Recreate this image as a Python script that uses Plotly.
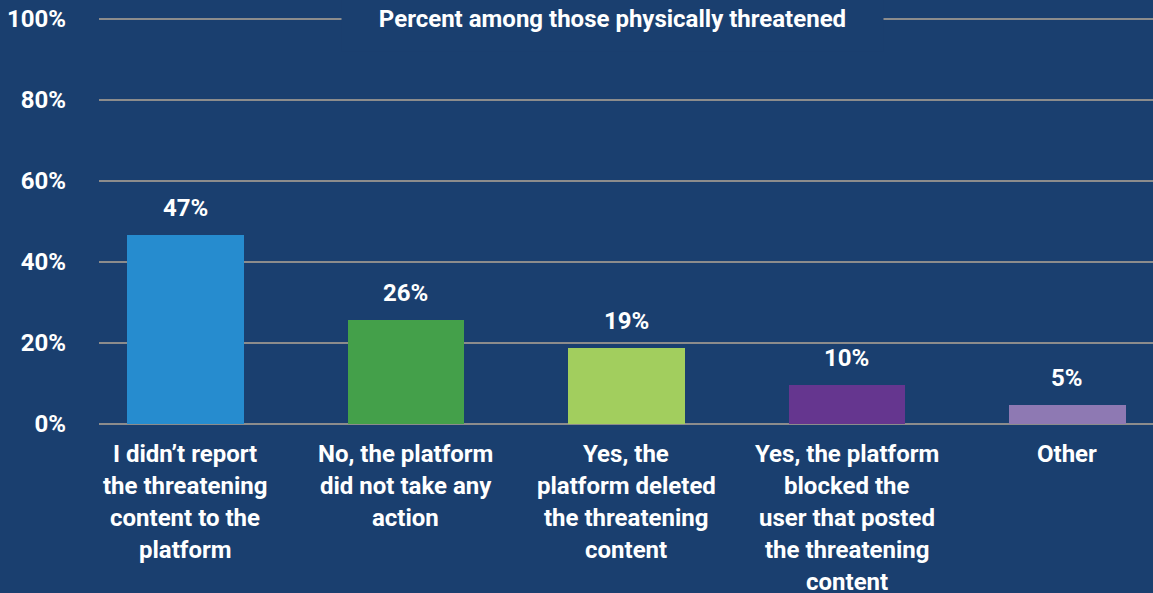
import plotly.graph_objects as go

categories = [
    "I didn’t report<br>the threatening<br>content to the<br>platform",
    "No, the platform<br>did not take any<br>action",
    "Yes, the<br>platform deleted<br>the threatening<br>content",
    "Yes, the platform<br>blocked the<br>user that posted<br>the threatening<br>content",
    "Other",
]
values = [46.7, 25.7, 18.8, 9.6, 4.7]
value_labels = ["47%", "26%", "19%", "10%", "5%"]
colors = ["#268ccf", "#44a04a", "#a2ce5e", "#65368f", "#8e79b3"]
tick_vals = [0, 20, 40, 60, 80, 100]
tick_text = ["0%", "20%", "40%", "60%", "80%", "100%"]
title_text = "Percent among those physically threatened"

BG = "#1a3f6f"
FONT = "Roboto"
FS = 24

xs = list(range(len(categories)))

fig = go.Figure()
fig.add_trace(go.Bar(
    x=xs, y=values, width=0.53,
    marker=dict(color=colors, line=dict(width=0)),
    hoverinfo="skip",
))

annotations = []
for i, (v, lab) in enumerate(zip(values, value_labels)):
    annotations.append(dict(
        x=i, y=v, xref="x", yref="y", text=f"<b>{lab}</b>", showarrow=False,
        yanchor="bottom", yshift=11,
        font=dict(family=FONT, size=FS, color="white"),
    ))
for i, cat in enumerate(categories):
    for j, line in enumerate(cat.split("<br>")):
        annotations.append(dict(
            x=i, y=0, xref="x", yref="y", text=f"<b>{line}</b>", showarrow=False,
            yanchor="middle", yshift=-(30 + 32 * j),
            font=dict(family=FONT, size=FS, color="white"),
        ))
annotations.append(dict(
    x=0.487, y=100, xref="paper", yref="y", text=f"<b>{title_text}</b>",
    showarrow=False, bgcolor=BG, width=505, borderpad=18,
    font=dict(family=FONT, size=FS, color="white"), yanchor="middle",
))

fig.update_layout(
    width=1153, height=593,
    paper_bgcolor=BG, plot_bgcolor=BG,
    margin=dict(l=99, r=0, t=15, b=165),
    showlegend=False,
    bargap=0,
    xaxis=dict(range=[-0.392, 4.388], showticklabels=False, showgrid=False,
               zeroline=False, showline=False, ticks=""),
    yaxis=dict(range=[-1, 101], tickvals=tick_vals, ticktext=[f"<b>{t}</b>" for t in tick_text],
               showgrid=True, gridcolor="#8c8c8c", gridwidth=2, zeroline=False,
               showline=False, ticks="", ticklabelstandoff=32,
               tickfont=dict(family=FONT, size=FS, color="white")),
    annotations=annotations,
)

fig.write_html(
    "out.html",
    config={"displayModeBar": False},
    post_script="document.body.style.margin='0';document.body.style.background='%s';" % BG,
)
